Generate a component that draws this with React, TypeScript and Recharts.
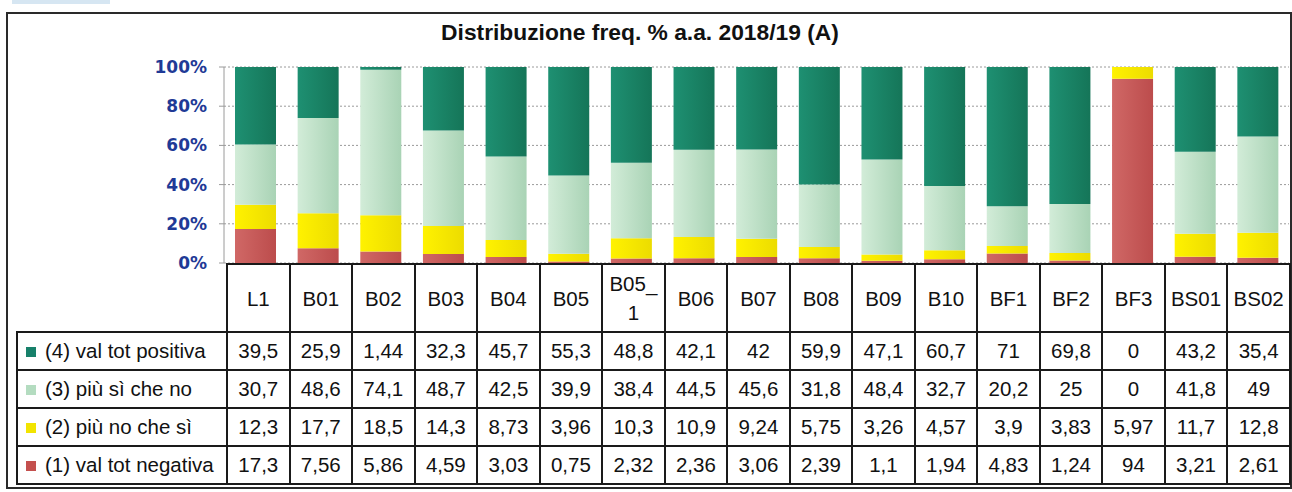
import { Bar, BarChart, CartesianGrid, XAxis, YAxis } from 'recharts';

const categories = ['L1', 'B01', 'B02', 'B03', 'B04', 'B05', 'B05_1', 'B06', 'B07', 'B08', 'B09', 'B10', 'BF1', 'BF2', 'BF3', 'BS01', 'BS02'];
const positive = [39.5, 25.9, 1.44, 32.3, 45.7, 55.3, 48.8, 42.1, 42, 59.9, 47.1, 60.7, 71, 69.8, 0, 43.2, 35.4];
const moreYes = [30.7, 48.6, 74.1, 48.7, 42.5, 39.9, 38.4, 44.5, 45.6, 31.8, 48.4, 32.7, 20.2, 25, 0, 41.8, 49];
const moreNo = [12.3, 17.7, 18.5, 14.3, 8.73, 3.96, 10.3, 10.9, 9.24, 5.75, 3.26, 4.57, 3.9, 3.83, 5.97, 11.7, 12.8];
const negative = [17.3, 7.56, 5.86, 4.59, 3.03, 0.75, 2.32, 2.36, 3.06, 2.39, 1.1, 1.94, 4.83, 1.24, 94, 3.21, 2.61];

const seriesLabels = ['(4) val tot positiva', '(3) più sì che no', '(2) più no che sì', '(1) val tot negativa'];
const yTicks = [0, 0.2, 0.4, 0.6, 0.8, 1];
const title = 'Distribuzione freq. % a.a. 2018/19 (A)';

const data = categories.map((name, i) => ({
  name,
  negative: negative[i],
  moreNo: moreNo[i],
  moreYes: moreYes[i],
  positive: positive[i],
}));

// table rows top to bottom, with legend swatch colour
const tableRows = [
  { label: seriesLabels[0], values: positive, color: '#17806a' },
  { label: seriesLabels[1], values: moreYes, color: '#b4dcc0' },
  { label: seriesLabels[2], values: moreNo, color: '#f2e400' },
  { label: seriesLabels[3], values: negative, color: '#c4504e' },
];

const fmt = (v: number) => String(v).replace('.', ',');

const TABLE_LEFT = 16;
const LEGEND_W = 210;
const COL_W = (1289 - 226) / categories.length;
const cellBorder = '2px solid #1a1a1a';

export default function App() {
  return (
    <div style={{ position: 'absolute', left: 0, top: 0, width: 1292, height: 492, background: '#fff', fontFamily: '"Liberation Sans", Arial, sans-serif' }}>
      <div style={{ position: 'absolute', left: 12, top: 0, width: 98, height: 4, background: '#d6e6f2' }} />
      <div style={{ position: 'absolute', left: 6, top: 12, width: 1282, height: 473, border: '2px solid #2a2a2a' }} />
      <div style={{ position: 'absolute', left: 240, top: 19, width: 800, textAlign: 'center', fontSize: 22.8, fontWeight: 'bold', color: '#111' }}>
        {title}
      </div>

      <div style={{ position: 'absolute', left: 0, top: 0 }}>
        <BarChart width={1292} height={285} data={data} margin={{ top: 67, right: 3, bottom: 22, left: 0 }} stackOffset="expand" barSize={41}>
          <defs>
            <linearGradient id="gPos" x1="0" y1="0" x2="1" y2="0">
              <stop offset="0%" stopColor="#1e9072" />
              <stop offset="100%" stopColor="#157558" />
            </linearGradient>
            <linearGradient id="gYes" x1="0" y1="0" x2="1" y2="0">
              <stop offset="0%" stopColor="#d2ecd8" />
              <stop offset="100%" stopColor="#a9d3b5" />
            </linearGradient>
            <linearGradient id="gNo" x1="0" y1="0" x2="1" y2="0">
              <stop offset="0%" stopColor="#fff200" />
              <stop offset="100%" stopColor="#ecdc00" />
            </linearGradient>
            <linearGradient id="gNeg" x1="0" y1="0" x2="1" y2="0">
              <stop offset="0%" stopColor="#d06866" />
              <stop offset="100%" stopColor="#bc4c4c" />
            </linearGradient>
          </defs>
          <CartesianGrid vertical={false} stroke="#9a9a9a" strokeDasharray="2 2" />
          <XAxis dataKey="name" hide />
          <YAxis
            width={224}
            ticks={yTicks}
            domain={[0, 1]}
            tickFormatter={(v: number) => `${Math.round(v * 100)}%`}
            axisLine={{ stroke: '#9a9a9a' }}
            tickLine={{ stroke: '#9a9a9a' }}
            tickSize={5}
            tickMargin={12}
            tick={{ fill: '#1f3a96', fontSize: 17, fontWeight: 'bold', fontFamily: '"DejaVu Sans", Verdana, sans-serif' }}
          />
          <Bar dataKey="negative" stackId="a" fill="url(#gNeg)" isAnimationActive={false} />
          <Bar dataKey="moreNo" stackId="a" fill="url(#gNo)" isAnimationActive={false} />
          <Bar dataKey="moreYes" stackId="a" fill="url(#gYes)" isAnimationActive={false} />
          <Bar dataKey="positive" stackId="a" fill="url(#gPos)" isAnimationActive={false} />
        </BarChart>
      </div>

      <table
        style={{
          position: 'absolute',
          left: TABLE_LEFT,
          top: 263,
          width: LEGEND_W + COL_W * categories.length + 2,
          borderCollapse: 'collapse',
          tableLayout: 'fixed',
          fontSize: 20.5,
          color: '#111',
        }}
      >
        <colgroup>
          <col style={{ width: LEGEND_W }} />
          {categories.map((c) => (
            <col key={c} style={{ width: COL_W }} />
          ))}
        </colgroup>
        <tbody>
          <tr style={{ height: 68 }}>
            <td style={{ border: 'none', padding: 0 }} />
            {categories.map((c) => (
              <td key={c} style={{ border: cellBorder, textAlign: 'center', padding: 0, whiteSpace: 'pre-line', lineHeight: '29px' }}>
                {c.replace('_', '_\n')}
              </td>
            ))}
          </tr>
          {tableRows.map((row) => (
            <tr key={row.label} style={{ height: 38 }}>
              <td style={{ border: cellBorder, padding: '0 0 0 8px', whiteSpace: 'nowrap' }}>
                <span style={{ display: 'inline-block', width: 10, height: 10, background: row.color, marginRight: 9, verticalAlign: 'middle', position: 'relative', top: -1 }} />
                {row.label}
              </td>
              {row.values.map((v, i) => (
                <td key={categories[i]} style={{ border: cellBorder, textAlign: 'center', padding: 0 }}>
                  {fmt(v)}
                </td>
              ))}
            </tr>
          ))}
        </tbody>
      </table>
    </div>
  );
}
